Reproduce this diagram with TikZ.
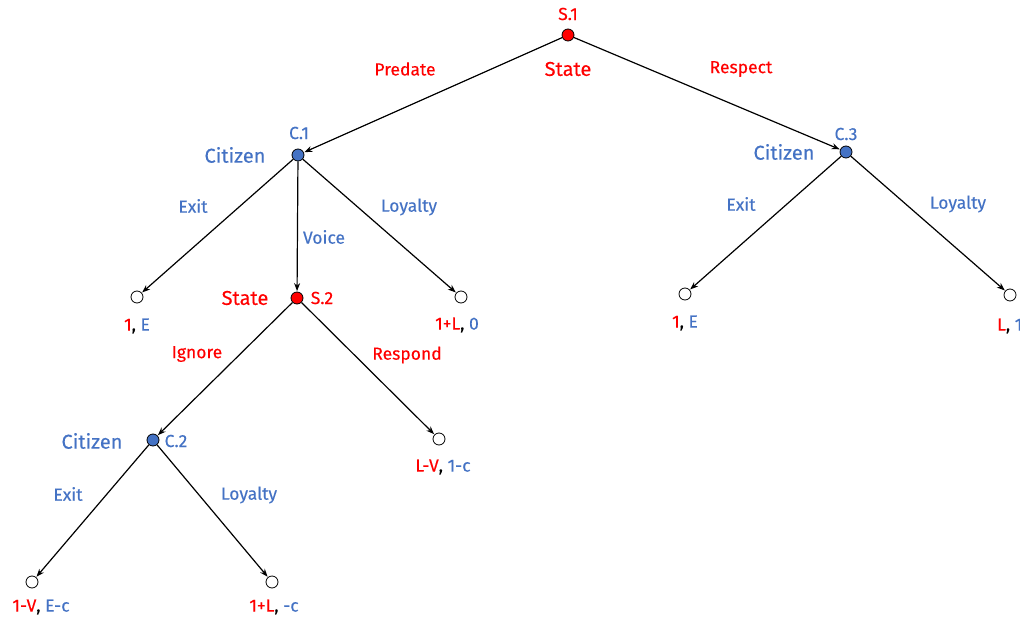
\documentclass[tikz,border=0pt]{standalone}
\usepackage{fontspec}
\setmainfont{Fira Sans}[UprightFeatures={FakeBold=0.3}]
\usetikzlibrary{arrows.meta}
\definecolor{sred}{HTML}{FF0000}
\definecolor{cblue}{HTML}{4472C4}
\tikzset{
  statept/.style={circle,draw=black,line width=0.8pt,fill=sred,minimum size=12pt,inner sep=0pt},
  citpt/.style={circle,draw=black,line width=0.8pt,fill=cblue,minimum size=12pt,inner sep=0pt},
  leafpt/.style={circle,draw=black,line width=0.8pt,fill=white,minimum size=12pt,inner sep=0pt},
  move/.style={-{Stealth[length=8pt,width=6pt]},line width=1.2pt,black,shorten >=0.5pt},
  small/.style={font=\fontsize{17.5}{19}\selectfont,inner sep=0pt},
  big/.style={font=\fontsize{20}{22}\selectfont,inner sep=0pt},
  redtxt/.style={text=sred},
  bluetxt/.style={text=cblue}
}
\newcommand{\pay}[2]{\textcolor{sred}{#1}, \textcolor{cblue}{#2}}
\begin{document}
\begin{tikzpicture}[x=1pt,y=-1pt]
\useasboundingbox (0,0) rectangle (1020,618);
% decision points
\node[statept] (s1) at (568,35) {};
\node[citpt] (c1) at (298,155) {};
\node[citpt] (c3) at (846,152) {};
\node[statept] (s2) at (297,298) {};
\node[citpt] (c2) at (153,440) {};
% terminal points
\node[leafpt] (t1) at (137,297) {};
\node[leafpt] (t2) at (461,297) {};
\node[leafpt] (t3) at (439,439) {};
\node[leafpt] (t4) at (32,582) {};
\node[leafpt] (t5) at (272,582) {};
\node[leafpt] (t6) at (685,294) {};
\node[leafpt] (t7) at (1010,295) {};
% moves
\draw[move] (s1) -- (c1);
\draw[move] (s1) -- (c3);
\draw[move] (c1) -- (t1);
\draw[move] (c1) -- (s2);
\draw[move] (c1) -- (t2);
\draw[move] (s2) -- (c2);
\draw[move] (s2) -- (t3);
\draw[move] (c2) -- (t4);
\draw[move] (c2) -- (t5);
\draw[move] (c3) -- (t6);
\draw[move] (c3) -- (t7);
% player labels
\node[small,redtxt] (ls1) at (568,14) {S.1};
\node[big,redtxt] (lst1) at (568,69) {State};
\node[small,bluetxt] (lc1) at (299,133) {C.1};
\node[big,bluetxt] (lci1) at (235,155) {Citizen};
\node[small,bluetxt] (lc3) at (846,134) {C.3};
\node[big,bluetxt] (lci3) at (784,152) {Citizen};
\node[big,redtxt] (lst2) at (245,298) {State};
\node[small,redtxt] (ls2) at (322,298) {S.2};
\node[big,bluetxt] (lci2) at (92,441) {Citizen};
\node[small,bluetxt] (lc2) at (176,441) {C.2};
% action labels
\node[small,redtxt] (ap) at (405,69) {Predate};
\node[small,redtxt] (ar) at (741,69) {Respect};
\node[small,bluetxt] (ae1) at (193,206) {Exit};
\node[small,bluetxt] (av1) at (324,237) {Voice};
\node[small,bluetxt] (al1) at (409,207) {Loyalty};
\node[small,redtxt] (ai) at (197,354) {Ignore};
\node[small,redtxt] (aresp) at (407,355) {Respond};
\node[small,bluetxt] (ae2) at (68,494) {Exit};
\node[small,bluetxt] (al2) at (249,495) {Loyalty};
\node[small,bluetxt] (ae3) at (741,204) {Exit};
\node[small,bluetxt] (al3) at (958,204) {Loyalty};
% payoffs
\node[small] (p1) at (137,326) {\pay{1}{E}};
\node[small] (p2) at (457,325) {\pay{1+L}{0}};
\node[small] (p3) at (443,467) {\pay{L-V}{1-c}};
\node[small] (p4) at (41,607) {\pay{1-V}{E-c}};
\node[small] (p5) at (274,607) {\pay{1+L}{-c}};
\node[small] (p6) at (685,323) {\pay{1}{E}};
\node[small,anchor=west] (p7) at (997,326) {\pay{L}{1}};
\end{tikzpicture}
\end{document}
